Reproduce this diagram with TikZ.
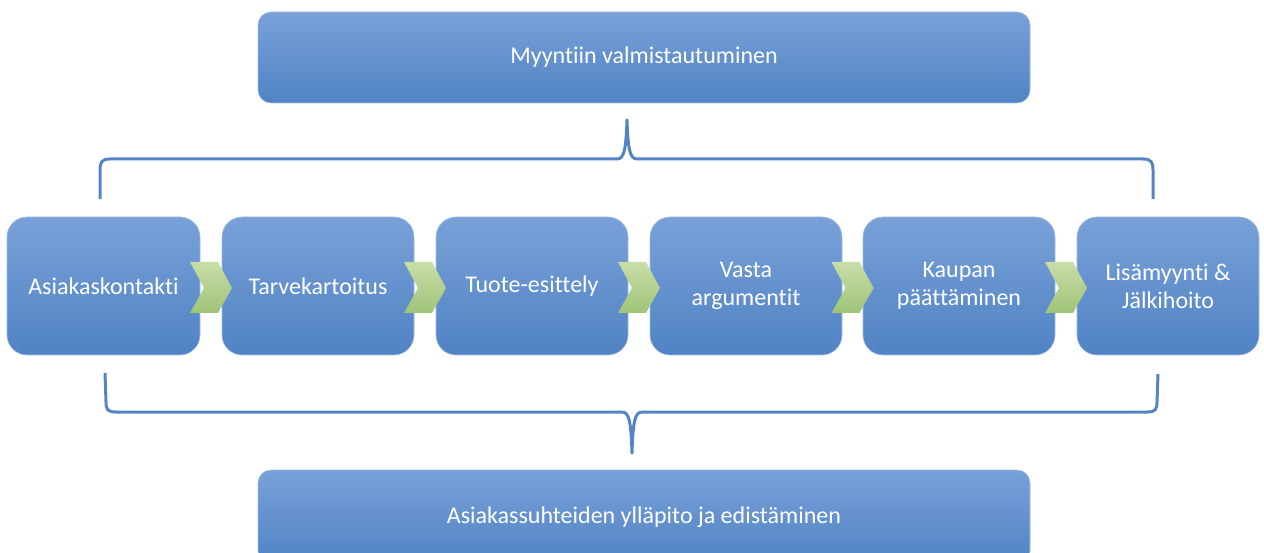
\documentclass[tikz,border=0pt]{standalone}
\usepackage{fontspec}
\setmainfont{Carlito}[Ligatures=NoCommon]
\definecolor{boxtop}{RGB}{121,161,216}
\definecolor{boxbot}{RGB}{80,131,196}
\definecolor{chevtop}{RGB}{200,221,168}
\definecolor{chevbot}{RGB}{160,196,120}
\definecolor{brace}{RGB}{84,132,196}
\tikzset{
  blockbox/.style={rectangle, rounded corners=13pt, top color=boxtop, bottom color=boxbot,
    draw=boxtop!70!white, line width=0.6pt, text=white, font=\fontsize{24}{29}\selectfont,
    minimum width=772pt, minimum height=91pt, inner sep=0pt},
  stepbox/.style={rectangle, rounded corners=20pt, top color=boxtop, bottom color=boxbot,
    draw=boxtop!70!white, line width=0.6pt, text=white, font=\fontsize{24}{28}\selectfont,
    minimum height=138pt, inner sep=0pt, align=center},
  chev/.style={top color=chevtop, bottom color=chevbot, draw=none},
  bracket/.style={draw=brace, line width=3pt, line join=round}
}
\begin{document}
\begin{tikzpicture}[x=1pt,y=-1pt]
\useasboundingbox (0,0) rectangle (1264,553);
\clip (0,0) rectangle (1264,553);

\node[blockbox] (top) at (644,57.5) {Myyntiin valmistautuminen};
\node[blockbox, minimum height=94pt] (bottom) at (644,517) {Asiakassuhteiden ylläpito ja edistäminen};

\node[stepbox, minimum width=193pt] (s1) at (103.5,286) {Asiakaskontakti};
\node[stepbox, minimum width=192pt] (s2) at (318,286) {Tarvekartoitus};
\node[stepbox, minimum width=192pt] (s3) at (532,286) {Tuote-esittely};
\node[stepbox, minimum width=192pt] (s4) at (746,286) {Vasta\\argumentit};
\node[stepbox, minimum width=192pt] (s5) at (959,286) {Kaupan\\päättäminen};
\node[stepbox, minimum width=182pt] (s6) at (1168,286) {Lisämyynti \&\\Jälkihoito};

\foreach \cx in {211,425,639,852.5,1066}{
  \shade[chev] (\cx-21,262) -- (\cx+7,262) -- (\cx+21,288) -- (\cx+7,313) -- (\cx-21,313) -- (\cx-7,288) -- cycle;
}

% top bracket
\draw[bracket] (100,199) -- (100,170) .. controls (100,162) and (102,159) .. (110,159)
  -- (617,159) .. controls (624,159) and (626,150) .. (627,120)
  .. controls (628,150) and (630,159) .. (637,159)
  -- (1143,159) .. controls (1151,159) and (1153,162) .. (1153,170) -- (1153,199);
% bottom bracket
\draw[bracket] (105,373) -- (106,402) .. controls (106,410) and (108,412) .. (116,412)
  -- (622,412) .. controls (629,412) and (631,421) .. (632,453)
  .. controls (633,421) and (635,412) .. (642,412)
  -- (1147,412) .. controls (1155,412) and (1157,410) .. (1157,402) -- (1158,374);
\end{tikzpicture}
\end{document}
